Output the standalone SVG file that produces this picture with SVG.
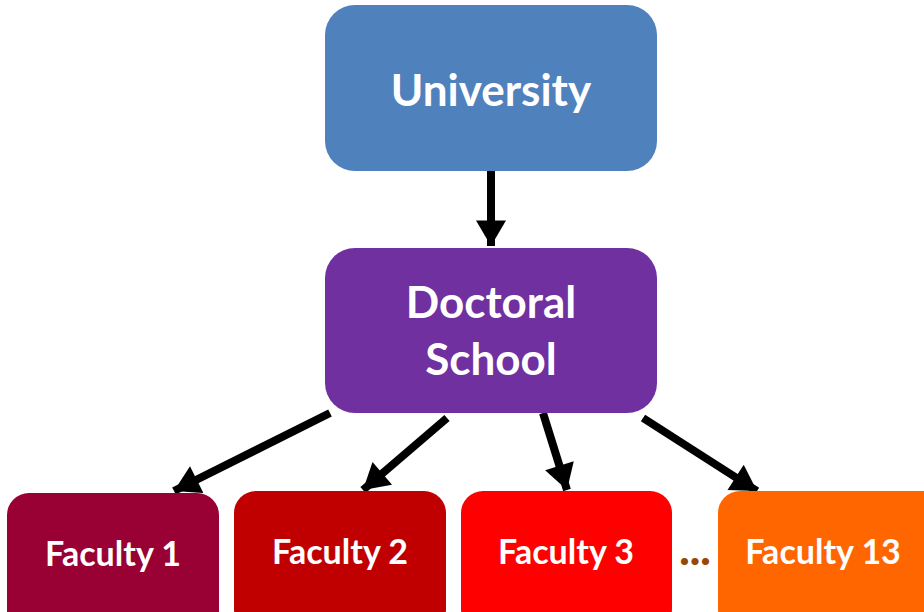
<svg xmlns="http://www.w3.org/2000/svg" width="924" height="612" viewBox="0 0 924 612">
<defs>
<style>
.lbl{font-family:Lato,"Liberation Sans",sans-serif;font-weight:bold;fill:#fff;text-anchor:middle}
.big{font-size:44px}
.mid{font-size:44px}
.sm{font-size:34px}
.conn{stroke:#000;stroke-width:8;fill:none;marker-end:url(#ah)}
</style>
<marker id="ah" markerUnits="userSpaceOnUse" markerWidth="30" markerHeight="30" viewBox="0 0 22 26" refX="22" refY="13" orient="auto">
<path d="M0,0 L22,13 L0,26 Z" fill="#000"/>
</marker>
</defs>
<g id="connectors">
<line class="conn" x1="491" y1="171" x2="491" y2="246"/>
<line class="conn" x1="330" y1="413" x2="174" y2="491"/>
<line class="conn" x1="447" y1="418" x2="363" y2="490"/>
<line class="conn" x1="543" y1="413" x2="567" y2="490"/>
<line class="conn" x1="643" y1="418" x2="757" y2="491"/>
</g>
<g id="university">
<rect x="325" y="5" width="332" height="166" rx="30" fill="#4F81BD"/>
<text class="lbl big" x="491" y="106">University</text>
</g>
<g id="doctoral">
<rect x="325" y="248" width="332" height="165" rx="30" fill="#7030A0"/>
<text class="lbl mid" x="491" y="318">Doctoral</text>
<text class="lbl mid" x="491" y="375">School</text>
</g>
<g id="faculty1">
<rect x="7" y="493" width="212" height="140" rx="22" fill="#990033"/>
<text class="lbl sm" x="113" y="566">Faculty 1</text>
</g>
<g id="faculty2">
<rect x="234" y="491" width="212" height="140" rx="22" fill="#C00000"/>
<text class="lbl sm" x="340" y="564">Faculty 2</text>
</g>
<g id="faculty3">
<rect x="461" y="491" width="211" height="140" rx="22" fill="#FF0000"/>
<text class="lbl sm" x="566" y="564">Faculty 3</text>
</g>
<text x="695" y="565" font-family="Lato,'Liberation Sans',sans-serif" font-weight="900" font-size="44" fill="#974706" text-anchor="middle">...</text>
<g id="faculty13">
<rect x="718" y="491" width="230" height="140" rx="22" fill="#FF6600"/>
<text class="lbl sm" x="823" y="564">Faculty 13</text>
</g>
</svg>
